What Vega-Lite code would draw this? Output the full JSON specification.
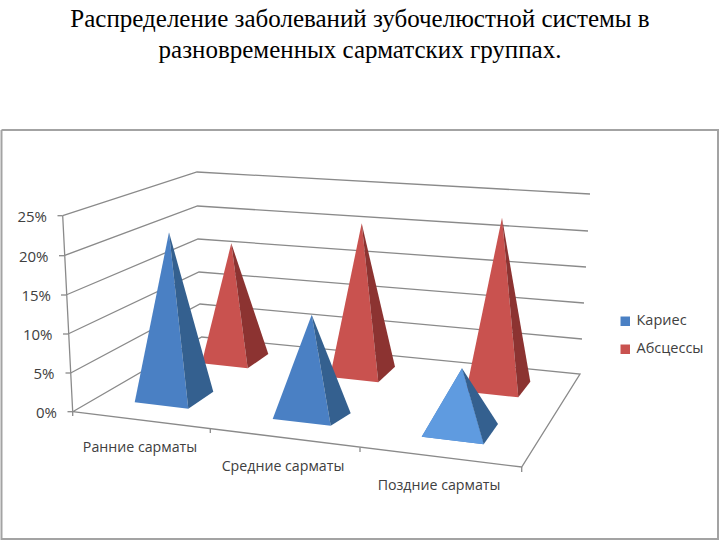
{"$schema":"https://vega.github.io/schema/vega-lite/v6.json","width":720,"height":540,"padding":0,"autosize":{"type":"none"},"background":"white","config":{"view":{"stroke":null}},
"title":{"text":["Распределение заболеваний зубочелюстной системы в","разновременных сарматских группах."],"font":"Liberation Serif","fontSize":25,"fontWeight":"normal","color":"#000000","anchor":"middle","lineHeight":31,"baseline":"top","offset":0,"dy":63},
"datasets":{
"faces":[
{"series":"Абсцессы","category":"Ранние сарматы","part":"front","i":1,"x":231.3,"y":243.3},{"series":"Абсцессы","category":"Ранние сарматы","part":"front","i":2,"x":201.7,"y":363.3},{"series":"Абсцессы","category":"Ранние сарматы","part":"front","i":3,"x":247.7,"y":368.3},
{"series":"Абсцессы","category":"Ранние сарматы","part":"side","i":1,"x":231.3,"y":243.3},{"series":"Абсцессы","category":"Ранние сарматы","part":"side","i":2,"x":247.7,"y":368.3},{"series":"Абсцессы","category":"Ранние сарматы","part":"side","i":3,"x":268.3,"y":354},
{"series":"Абсцессы","category":"Средние сарматы","part":"front","i":1,"x":361.7,"y":223.3},{"series":"Абсцессы","category":"Средние сарматы","part":"front","i":2,"x":330,"y":377},{"series":"Абсцессы","category":"Средние сарматы","part":"front","i":3,"x":378.3,"y":382.3},
{"series":"Абсцессы","category":"Средние сарматы","part":"side","i":1,"x":361.7,"y":223.3},{"series":"Абсцессы","category":"Средние сарматы","part":"side","i":2,"x":378.3,"y":382.3},{"series":"Абсцессы","category":"Средние сарматы","part":"side","i":3,"x":395,"y":366.7},
{"series":"Абсцессы","category":"Поздние сарматы","part":"front","i":1,"x":502,"y":217.7},{"series":"Абсцессы","category":"Поздние сарматы","part":"front","i":2,"x":466,"y":391.7},{"series":"Абсцессы","category":"Поздние сарматы","part":"front","i":3,"x":518.3,"y":397.3},
{"series":"Абсцессы","category":"Поздние сарматы","part":"side","i":1,"x":502,"y":217.7},{"series":"Абсцессы","category":"Поздние сарматы","part":"side","i":2,"x":518.3,"y":397.3},{"series":"Абсцессы","category":"Поздние сарматы","part":"side","i":3,"x":530.3,"y":381.7},
{"series":"Кариес","category":"Ранние сарматы","part":"front","i":1,"x":169,"y":232.3},{"series":"Кариес","category":"Ранние сарматы","part":"front","i":2,"x":134.7,"y":402.3},{"series":"Кариес","category":"Ранние сарматы","part":"front","i":3,"x":188.3,"y":408.7},
{"series":"Кариес","category":"Ранние сарматы","part":"side","i":1,"x":169,"y":232.3},{"series":"Кариес","category":"Ранние сарматы","part":"side","i":2,"x":188.3,"y":408.7},{"series":"Кариес","category":"Ранние сарматы","part":"side","i":3,"x":213.3,"y":391.7},
{"series":"Кариес","category":"Средние сарматы","part":"front","i":1,"x":311.7,"y":314.7},{"series":"Кариес","category":"Средние сарматы","part":"front","i":2,"x":272.7,"y":419},{"series":"Кариес","category":"Средние сарматы","part":"front","i":3,"x":330.7,"y":425.7},
{"series":"Кариес","category":"Средние сарматы","part":"side","i":1,"x":311.7,"y":314.7},{"series":"Кариес","category":"Средние сарматы","part":"side","i":2,"x":330.7,"y":425.7},{"series":"Кариес","category":"Средние сарматы","part":"side","i":3,"x":350.7,"y":413.3},
{"series":"Кариес","category":"Поздние сарматы","part":"front","i":1,"x":462,"y":368.3},{"series":"Кариес","category":"Поздние сарматы","part":"front","i":2,"x":421.7,"y":436.7},{"series":"Кариес","category":"Поздние сарматы","part":"front","i":3,"x":483.7,"y":444.3},
{"series":"Кариес","category":"Поздние сарматы","part":"side","i":1,"x":462,"y":368.3},{"series":"Кариес","category":"Поздние сарматы","part":"side","i":2,"x":483.7,"y":444.3},{"series":"Кариес","category":"Поздние сарматы","part":"side","i":3,"x":498,"y":424}
],
"lines":[
{"id":"g25","i":1,"x":62.7,"y":215.7},{"id":"g25","i":2,"x":197,"y":172},{"id":"g25","i":3,"x":590,"y":194},
{"id":"g20","i":1,"x":64,"y":255.7},{"id":"g20","i":2,"x":197.5,"y":206},{"id":"g20","i":3,"x":588,"y":231},
{"id":"g15","i":1,"x":66,"y":295},{"id":"g15","i":2,"x":198,"y":239},{"id":"g15","i":3,"x":586,"y":267},
{"id":"g10","i":1,"x":68,"y":334},{"id":"g10","i":2,"x":199,"y":272},{"id":"g10","i":3,"x":584,"y":303},
{"id":"g5","i":1,"x":70.7,"y":373},{"id":"g5","i":2,"x":200,"y":304},{"id":"g5","i":3,"x":582,"y":339},
{"id":"floor","i":1,"x":72.7,"y":411.7},{"id":"floor","i":2,"x":201.7,"y":337},{"id":"floor","i":3,"x":580,"y":374},{"id":"floor","i":4,"x":521.7,"y":467},{"id":"floor","i":5,"x":72.7,"y":411.7},
{"id":"axis","i":1,"x":62.7,"y":215.7},{"id":"axis","i":2,"x":72.7,"y":411.7},{"id":"axis","i":3,"x":72.7,"y":416},
{"id":"t25","i":1,"x":57.5,"y":215.7},{"id":"t25","i":2,"x":62.7,"y":215.7},
{"id":"t20","i":1,"x":59,"y":255.7},{"id":"t20","i":2,"x":64,"y":255.7},
{"id":"t15","i":1,"x":61,"y":295},{"id":"t15","i":2,"x":66,"y":295},
{"id":"t10","i":1,"x":63,"y":334},{"id":"t10","i":2,"x":68,"y":334},
{"id":"t5","i":1,"x":65.5,"y":373},{"id":"t5","i":2,"x":70.7,"y":373},
{"id":"t0","i":1,"x":67.5,"y":411.7},{"id":"t0","i":2,"x":72.7,"y":411.7},
{"id":"c1","i":1,"x":210.3,"y":429},{"id":"c1","i":2,"x":210.3,"y":433},
{"id":"c2","i":1,"x":360,"y":447.5},{"id":"c2","i":2,"x":360,"y":452},
{"id":"c3","i":1,"x":521.7,"y":467},{"id":"c3","i":2,"x":521.7,"y":472}
],
"frame":[{"id":"frame","i":1,"x":1.5,"y":130},{"id":"frame","i":2,"x":718,"y":130},{"id":"frame","i":3,"x":718,"y":539},{"id":"frame","i":4,"x":1.5,"y":539},{"id":"frame","i":5,"x":1.5,"y":130}],
"ylabels":[{"label":"25%","x":47,"y":217},{"label":"20%","x":48.5,"y":257},{"label":"15%","x":51,"y":296},{"label":"10%","x":52.5,"y":335},{"label":"5%","x":54.5,"y":374},{"label":"0%","x":57,"y":412.5}],
"xlabels":[{"label":"Ранние сарматы","x":140,"y":448},{"label":"Средние сарматы","x":283,"y":467},{"label":"Поздние сарматы","x":439,"y":486}]
},
"encoding":{"x":{"field":"x","type":"quantitative","scale":{"domain":[0,720]},"axis":null},"y":{"field":"y","type":"quantitative","scale":{"domain":[540,0]},"axis":null}},
"layer":[
{"data":{"name":"frame"},"mark":{"type":"line","stroke":"#a3a3a3","strokeWidth":2,"clip":false},"encoding":{"order":{"field":"i"}}},
{"data":{"name":"lines"},"mark":{"type":"line","stroke":"#8a8a8a","strokeWidth":1.3},"encoding":{"detail":{"field":"id"},"order":{"field":"i"}}},
{"data":{"name":"faces"},"transform":[{"filter":"datum.series==='Абсцессы'&&datum.part==='front'"}],"mark":{"type":"line","filled":true,"strokeWidth":0},"encoding":{"color":{"field":"series","type":"nominal","scale":{"domain":["Кариес","Абсцессы"],"range":["#4a80c4","#c9524f"]},"legend":{"title":null,"orient":"none","legendX":618,"legendY":314,"symbolType":"square","symbolSize":90,"labelFont":"Open Sans","labelFontSize":14.5,"labelColor":"#404040","rowPadding":13}},"detail":{"field":"category"},"order":{"field":"i"}}},
{"data":{"name":"faces"},"transform":[{"filter":"datum.series==='Абсцессы'&&datum.part==='side'"}],"mark":{"type":"line","filled":true,"fill":"#8c3331","strokeWidth":0},"encoding":{"detail":{"field":"category"},"order":{"field":"i"}}},
{"data":{"name":"faces"},"transform":[{"filter":"datum.series==='Кариес'&&datum.part==='front'"}],"mark":{"type":"line","filled":true,"strokeWidth":0},"encoding":{"color":{"field":"series","type":"nominal"},"detail":{"field":"category"},"order":{"field":"i"}}},
{"data":{"name":"faces"},"transform":[{"filter":"datum.series==='Кариес'&&datum.part==='front'&&datum.category==='Поздние сарматы'"}],"mark":{"type":"line","filled":true,"fill":"#5f9be0","strokeWidth":0},"encoding":{"order":{"field":"i"}}},
{"data":{"name":"faces"},"transform":[{"filter":"datum.series==='Кариес'&&datum.part==='side'"}],"mark":{"type":"line","filled":true,"fill":"#34608f","strokeWidth":0},"encoding":{"detail":{"field":"category"},"order":{"field":"i"}}},
{"data":{"name":"ylabels"},"mark":{"type":"text","align":"right","baseline":"middle","font":"Open Sans","fontSize":15,"color":"#404040"},"encoding":{"text":{"field":"label"}}},
{"data":{"name":"xlabels"},"mark":{"type":"text","align":"center","baseline":"middle","font":"Open Sans","fontSize":14.2,"color":"#404040"},"encoding":{"text":{"field":"label"}}}
]}
